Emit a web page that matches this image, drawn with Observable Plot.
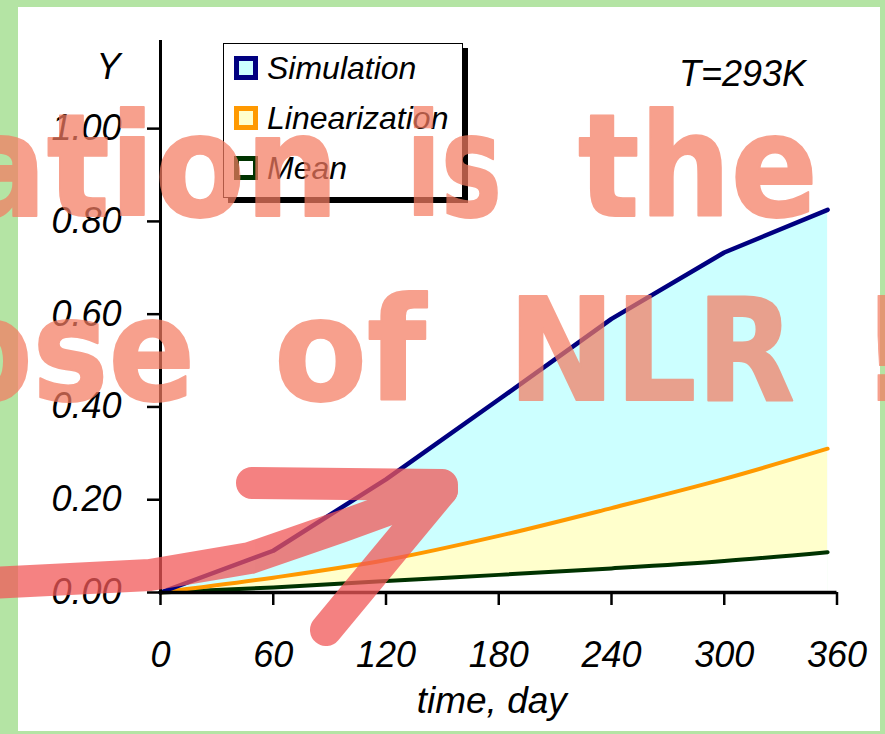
<!DOCTYPE html>
<html><head><meta charset="utf-8">
<script src="https://cdn.jsdelivr.net/npm/d3@7"></script>
<script src="https://cdn.jsdelivr.net/npm/@observablehq/plot@0.6"></script>
<style>
html,body{margin:0;padding:0;}
body{width:885px;height:734px;background:#b4e4a4;position:relative;overflow:hidden;}
#panel{position:absolute;left:18px;top:7px;width:862px;height:724px;background:#fff;}
#chart{position:absolute;left:0;top:0;}
#legend{position:absolute;left:223px;top:43px;width:240px;height:155px;background:#fff;border:1px solid #000;box-shadow:5px 5px 0 #000;box-sizing:border-box;}
#overlay{position:absolute;left:0;top:0;pointer-events:none;}
</style></head><body>
<div id="panel"></div>
<div id="chart"></div>
<div id="legend"></div>
<svg id="overlay" width="885" height="734"></svg>
<script>
// ---- data ----
const days = [0, 60, 120, 180, 240, 300, 355];
const simulation = [0, 0.090, 0.244, 0.416, 0.590, 0.733, 0.825];
const linearization = [0, 0.032, 0.070, 0.122, 0.182, 0.245, 0.310];
const mean = [0, 0.011, 0.025, 0.038, 0.052, 0.068, 0.087];
const xTicks = [0, 60, 120, 180, 240, 300, 360];
const yTicks = [0, 0.2, 0.4, 0.6, 0.8, 1.0];
const seriesNames = ["Simulation", "Linearization", "Mean"];
const seriesStroke = ["#000080", "#ff9900", "#003300"];
const seriesFill = ["#ccffff", "#ffffcc", "#ffffff"];
const xLabel = "time, day";
const yLabel = "Y";
const note = "T=293K";
// slide overlay (animated caption and arrow drawn over the chart)
const overlayWords = ["ation", "is", "the", "ose", "of", "NLR", "!"];
const overlayLine = [1, 1, 1, 2, 2, 2, 2];
const overlayStart = [-42, 406, 578, -55, 274, 508, 870];
const overlayWidth = [381, 96, 240, 250, 152, 287, 26];
const arrowShaft = [[-10, 583], [150, 575], [250, 558], [340, 527], [442, 490]];
const arrowHeadA = [[252, 483], [442, 485]];
const arrowHeadB = [[442, 490], [326, 630]];

const rows = days.map((d, i) => ({day: d, sim: simulation[i], lin: linearization[i], mean: mean[i]}));
const font = "'Liberation Sans', Arial, sans-serif";

const chart = Plot.plot({
  width: 885, height: 734,
  marginLeft: 160, marginRight: 48.5, marginTop: 40, marginBottom: 142,
  x: {domain: [0, 360]},
  y: {domain: [0, 1.19]},
  style: {fontFamily: font, fontStyle: "italic", fontSize: "36px", color: "#000", background: "transparent", overflow: "visible"},
  marks: [
    Plot.areaY(rows, {x: "day", y: "sim", fill: seriesFill[0]}),
    Plot.areaY(rows, {x: "day", y: "lin", fill: seriesFill[1], curve: "catmull-rom"}),
    Plot.areaY(rows, {x: "day", y: "mean", fill: seriesFill[2], curve: "catmull-rom"}),
    Plot.lineY(rows, {x: "day", y: "mean", stroke: seriesStroke[2], strokeWidth: 4, curve: "catmull-rom"}),
    Plot.lineY(rows, {x: "day", y: "lin", stroke: seriesStroke[1], strokeWidth: 4, curve: "catmull-rom"}),
    Plot.lineY(rows, {x: "day", y: "sim", stroke: seriesStroke[0], strokeWidth: 4.5}),
    Plot.axisX({ticks: xTicks, tickSize: 13, tickPadding: 36, strokeWidth: 2.5, label: null, tickFormat: d => String(d)}),
    Plot.axisY({ticks: yTicks, tickSize: 13, tickPadding: 26, strokeWidth: 2.5, label: null, tickFormat: d => d.toFixed(2)}),
    Plot.ruleX([0], {stroke: "#000", strokeWidth: 3}),
    Plot.ruleY([0], {stroke: "#000", strokeWidth: 3.5}),
    Plot.text([xLabel], {text: d => d, frameAnchor: "bottom", dx: -7, dy: 120, lineAnchor: "bottom", fontSize: 37}),
    Plot.text([yLabel], {text: d => d, frameAnchor: "top-left", dx: -40, dy: 38, textAnchor: "end", lineAnchor: "bottom"}),
    Plot.text([note], {text: d => d, frameAnchor: "top-right", dx: -31, dy: 45, textAnchor: "end", lineAnchor: "bottom"})
  ]
});
document.getElementById("chart").appendChild(chart);

// legend
const lg = d3.select("#legend").append("svg").attr("width", 240).attr("height", 155)
  .style("position", "absolute").style("left", "-1px").style("top", "-1px");
seriesNames.forEach((name, i) => {
  const cy = 25 + i * 50;
  lg.append("rect").attr("x", 13.5).attr("y", cy - 9.5).attr("width", 19).attr("height", 19)
    .attr("fill", seriesFill[i]).attr("stroke", seriesStroke[i]).attr("stroke-width", 5);
  lg.append("text").attr("x", 44).attr("y", cy + 11).text(name)
    .attr("font-family", font).attr("font-style", "italic").attr("font-size", 32).attr("fill", "#000");
});

// overlay
const ov = d3.select("#overlay");
const line = d3.line();
const ag = ov.append("g").attr("opacity", 0.75);
[arrowShaft, arrowHeadA, arrowHeadB].forEach(p => {
  ag.append("path").attr("d", line(p)).attr("fill", "none").attr("stroke", "#f15858")
    .attr("stroke-width", 32).attr("stroke-linecap", "round").attr("stroke-linejoin", "round");
});
overlayWords.forEach((w, i) => {
  ov.append("text").attr("x", overlayStart[i]).attr("y", overlayLine[i] === 1 ? 216 : 400)
    .attr("textLength", overlayWidth[i]).attr("lengthAdjust", "spacingAndGlyphs")
    .attr("font-family", "'DejaVu Sans', sans-serif").attr("font-weight", "bold").attr("font-size", 142)
    .attr("fill", "#f47c62").attr("stroke", "#f47c62").attr("stroke-width", 2).attr("stroke-linejoin", "round")
    .attr("opacity", 0.72).text(w);
});
</script>
</body></html>
